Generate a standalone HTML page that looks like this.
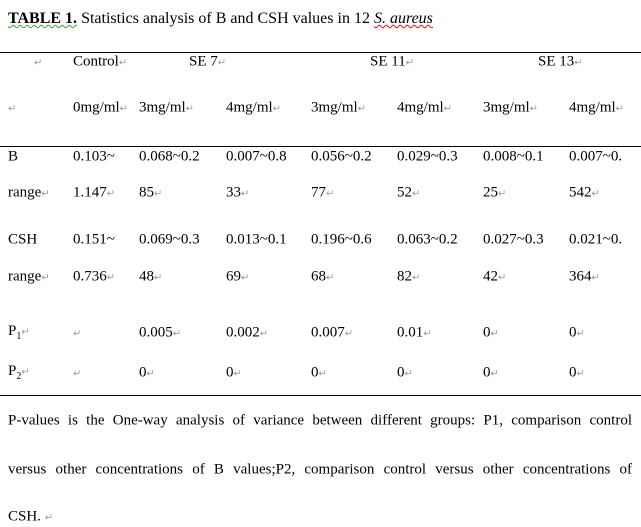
<!DOCTYPE html>
<html><head><meta charset="utf-8"><style>
body{margin:0;width:641px;height:527px;background:#fff;position:relative;overflow:hidden;font-family:"Liberation Serif",serif;font-size:15px;color:#000}
.t{position:absolute;white-space:nowrap;line-height:1;transform:translateY(-50%)}
.m{color:#999;font-size:10px}
.hl{position:absolute;left:0;width:641px;height:1px;background:#000}
.f{position:absolute;left:8px;width:624px;text-align:justify;text-align-last:justify;line-height:1;transform:translateY(-50%);word-spacing:1px}
</style></head><body>
<div class="t" style="left:8px;top:19px;font-size:16px"><b style="text-decoration:underline wavy #3a3;text-decoration-thickness:1px">TABLE 1.</b> Statistics analysis of B and CSH values in 12 <i style="text-decoration:underline wavy red;text-decoration-thickness:1px">S. aureus</i></div>
<div class="hl" style="top:52px"></div>
<div class="hl" style="top:146px"></div>
<div class="hl" style="top:395px"></div>
<div id="tbl"></div>
<div class="f" style="top:421px">P-values is the One-way analysis of variance between different groups: P1, comparison control</div>
<div class="f" style="top:470px">versus other concentrations of B values;P2, comparison control versus other concentrations of</div>
<div class="t" style="left:8px;top:517px">CSH. <span class="m">↵</span></div>
<script>
const colX=[8,73,139,226,311,397,483,569];
const rowY=[62,108,157,193,240,277,333,373];
const groups=["Control","SE 7","SE 11","SE 13"];
const concs=["0mg/ml","3mg/ml","4mg/ml","3mg/ml","4mg/ml","3mg/ml","4mg/ml"];
const bTop=["0.103~","0.068~0.2","0.007~0.8","0.056~0.2","0.029~0.3","0.008~0.1","0.007~0."];
const bBot=["1.147","85","33","77","52","25","542"];
const cTop=["0.151~","0.069~0.3","0.013~0.1","0.196~0.6","0.063~0.2","0.027~0.3","0.021~0."];
const cBot=["0.736","48","69","68","82","42","364"];
const p1=["","0.005","0.002","0.007","0.01","0","0"];
const p2=["","0","0","0","0","0","0"];
const tbl=document.getElementById('tbl');
function cell(x,y,html,name){const d=document.createElement('div');d.className='t';d.style.left=x+'px';d.style.top=y+'px';d.innerHTML=html;


tbl.appendChild(d);}
const mk='<span class="m">↵</span>';
cell(34,rowY[0],mk,'empty-header');
cell(colX[1],rowY[0],groups[0]+mk,'group-header');
cell(189,rowY[0],groups[1]+mk,'group-header');
cell(370,rowY[0],groups[2]+mk,'group-header');
cell(538,rowY[0],groups[3]+mk,'group-header');
cell(8,rowY[1],mk,'empty-header');
concs.forEach((c,i)=>cell(colX[i+1],rowY[1],c+mk,'concentration-header'));
cell(8,rowY[2],'B','row-label');cell(8,rowY[3],'range'+mk,'row-label');
cell(8,rowY[4],'CSH','row-label');cell(8,rowY[5],'range'+mk,'row-label');
cell(8,rowY[6],'P<sub style="font-size:10px">1</sub>'+mk,'row-label');
cell(8,rowY[7],'P<sub style="font-size:10px">2</sub>'+mk,'row-label');
[[bTop,false],[bBot,true],[cTop,false],[cBot,true],[p1,true],[p2,true]].forEach(([arr,m],r)=>{
 arr.forEach((v,i)=>cell(colX[i+1],rowY[r+2],v+(m?mk:''),'value-cell'));
});
</script>
</body></html>
